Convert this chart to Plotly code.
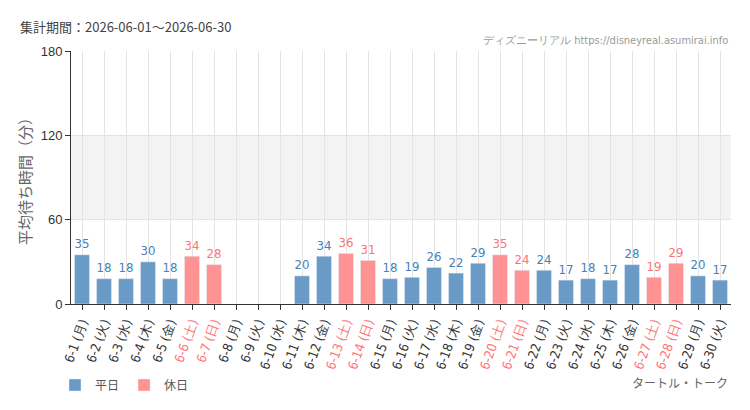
import plotly.graph_objects as go

dates = [f"6-{d}" for d in range(1, 31)]
weekdays = (["月", "火", "水", "木", "金", "土", "日"] * 5)[:30]
values = [35, 18, 18, 30, 18, 34, 28, None, None, None, 20, 34, 36, 31, 18,
          19, 26, 22, 29, 35, 24, 24, 17, 18, 17, 28, 19, 29, 20, 17]
holiday = [w in ("土", "日") for w in weekdays]
y_ticks = [0, 60, 120, 180]

BLUE = "#6a9ac6"
PINK = "#ff9393"
BLUE_TXT = "#4a80b8"
PINK_TXT = "#ff7373"
COND = "'Liberation Sans Narrow', 'DejaVu Sans Condensed', 'Roboto', sans-serif"
JP = "'Noto Sans CJK JP', 'Noto Sans', sans-serif"

L, R, T, B = 71, 731, 51, 305
def px(x):
    return (x - L) / (R - L)
def py(y):
    return (B - y) / (B - T)

cats = list(range(30))
tick_text = []
for d, w, h in zip(dates, weekdays, holiday):
    t = f"{d} ({w})"
    if h:
        t = f"<span style='color:{PINK_TXT}'>{t}</span>"
    tick_text.append(t)

wd_vals = [v if not h else None for v, h in zip(values, holiday)]
hd_vals = [v if h else None for v, h in zip(values, holiday)]

fig = go.Figure()
fig.add_trace(go.Bar(
    x=cats, y=wd_vals, name="平日", marker_color=BLUE, width=0.68,
    text=[str(v) if v is not None else "" for v in wd_vals],
    textposition="outside", cliponaxis=False,
    textfont=dict(color=BLUE_TXT, size=15, family=COND),
))
fig.add_trace(go.Bar(
    x=cats, y=hd_vals, name="休日", marker_color=PINK, width=0.68,
    text=[str(v) if v is not None else "" for v in hd_vals],
    textposition="outside", cliponaxis=False,
    textfont=dict(color=PINK_TXT, size=15, family=COND),
))

fig.add_shape(type="rect", xref="paper", yref="y", x0=0, x1=1, y0=60, y1=120,
              fillcolor="#f3f3f3", line_width=0, layer="below")

fig.update_layout(
    width=750, height=410,
    margin=dict(l=L, r=750 - R, t=T, b=410 - B),
    paper_bgcolor="white", plot_bgcolor="white",
    barmode="overlay",
    showlegend=True,
    legend=dict(orientation="h", x=px(55), y=py(385),
                xanchor="left", yanchor="middle",
                font=dict(family=JP, size=12, color="#555"), traceorder="normal"),
    xaxis=dict(
        tickmode="array", tickvals=cats, ticktext=tick_text,
        range=[-0.5, 29.5], tickangle=-70,
        ticks="outside", ticklen=5, tickcolor="#333",
        showline=True, linecolor="#333", linewidth=1,
        showgrid=True, gridcolor="#e4e4e4",
        tickfont=dict(family=COND, size=13, color="#333"),
    ),
    yaxis=dict(
        range=[0, 180], tickvals=y_ticks,
        ticks="outside", ticklen=5, tickcolor="#333",
        showline=True, linecolor="#333", linewidth=1,
        showgrid=True, gridcolor="#e4e4e4",
        tickfont=dict(family="'Liberation Sans', Arial, sans-serif", size=13, color="#333"),
        title=dict(text="平均待ち時間（分）", font=dict(family=JP, size=15, color="#666"),
                   standoff=5),
        zeroline=False,
    ),
    annotations=[
        dict(text="集計期間：2026-06-01～2026-06-30", xref="paper", yref="paper",
             x=px(18), xanchor="left", y=py(26), yanchor="middle", showarrow=False,
             font=dict(family=JP, size=13, color="#444")),
        dict(text="ディズニーリアル https://disneyreal.asumirai.info", xref="paper", yref="paper",
             x=px(730), xanchor="right", y=py(40), yanchor="middle", showarrow=False,
             font=dict(family=COND, size=11, color="#999")),
        dict(text="タートル・トーク", xref="paper", yref="paper",
             x=px(730), xanchor="right", y=py(384), yanchor="middle", showarrow=False,
             font=dict(family=JP, size=12, color="#666")),
    ],
)

fig.write_html("out.html")
